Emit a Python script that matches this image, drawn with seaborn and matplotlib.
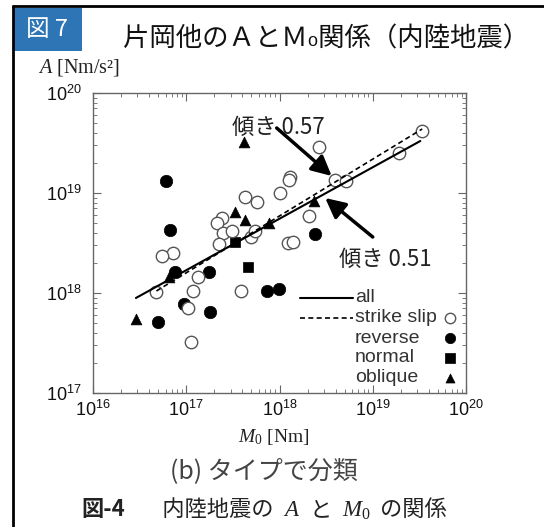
import numpy as np
import pandas as pd
import matplotlib
matplotlib.use("Agg")
import matplotlib.pyplot as plt
import seaborn as sns
from matplotlib.lines import Line2D
from matplotlib.patches import Rectangle
from matplotlib.ticker import LogLocator, FuncFormatter, NullFormatter
from matplotlib.offsetbox import TextArea, HPacker, AnchoredOffsetbox

# values, as exponents: log10(M0 [Nm]) and log10(A [Nm/s^2])
ss_m0 = [19.53, 18.42, 19.28, 18.11, 18.10, 18.60, 18.71, 18.00, 17.63, 17.76,
         18.32, 17.38, 17.33, 17.39, 17.49, 17.69, 17.74, 17.35, 18.09, 18.15,
         16.86, 16.74, 17.13, 17.07, 16.68, 17.59, 17.02, 17.05]
ss_a = [19.62, 19.46, 19.40, 19.16, 19.13, 19.13, 19.12, 19.00, 18.96, 18.91,
        18.77, 18.75, 18.70, 18.60, 18.62, 18.56, 18.62, 18.49, 18.50, 18.51,
        18.40, 18.37, 18.16, 18.02, 18.01, 18.02, 17.85, 17.51]
rev_m0 = [16.78, 16.83, 16.88, 17.24, 16.98, 17.26, 16.70, 17.87, 17.99, 18.38]
rev_a = [19.12, 18.63, 18.21, 18.21, 17.89, 17.81, 17.71, 18.02, 18.04, 18.59]
nor_m0 = [17.52, 17.66]
nor_a = [18.51, 18.26]
obl_m0 = [17.62, 17.52, 17.63, 17.89, 18.37, 16.46, 16.82]
obl_a = [19.51, 18.81, 18.73, 18.70, 18.92, 17.74, 18.16]

# fitted lines (end points)
all_m0 = [16.46, 19.51]
all_a = [17.95, 19.52]
ssfit_m0 = [16.68, 19.53]
ssfit_a = [18.02, 19.64]

legend_rows = ["all", "strike slip", "reverse", "normal", "oblique"]

sns.set_theme(style="ticks")
plt.rcParams['font.family'] = ['Noto Sans CJK JP', 'DejaVu Sans']
plt.rcParams['mathtext.fontset'] = 'custom'
plt.rcParams['mathtext.rm'] = 'Liberation Sans'
plt.rcParams['mathtext.it'] = 'Liberation Serif:italic'

W, H = 544, 527
fig = plt.figure(figsize=(W / 100, H / 100), dpi=100)
ax = fig.add_axes([93 / W, 1 - 393 / H, 373 / W, 300 / H])

df = pd.concat([
    pd.DataFrame({"M0": 10 ** np.array(rev_m0), "A": 10 ** np.array(rev_a), "type": "reverse"}),
    pd.DataFrame({"M0": 10 ** np.array(nor_m0), "A": 10 ** np.array(nor_a), "type": "normal"}),
    pd.DataFrame({"M0": 10 ** np.array(obl_m0), "A": 10 ** np.array(obl_a), "type": "oblique"}),
    pd.DataFrame({"M0": 10 ** np.array(ss_m0), "A": 10 ** np.array(ss_a), "type": "strike slip"}),
])

styles = {
    "reverse": dict(marker="o", s=80, color="black", edgecolor="black", linewidth=0.5),
    "normal": dict(marker="s", s=60, color="black", edgecolor="black", linewidth=0.5),
    "oblique": dict(marker="^", s=60, color="black", edgecolor="black", linewidth=0.5),
    "strike slip": dict(marker="o", s=80, color="white", edgecolor="#555555", linewidth=1.0),
}
for t, st in styles.items():
    sns.scatterplot(data=df[df["type"] == t], x="M0", y="A", ax=ax, legend=False, zorder=3, **st)

lines = pd.DataFrame({"M0": 10 ** np.array(all_m0 + ssfit_m0),
                      "A": 10 ** np.array(all_a + ssfit_a),
                      "fit": ["all"] * 2 + ["strike slip"] * 2})
sns.lineplot(data=lines[lines.fit == "all"], x="M0", y="A", ax=ax, color="black", lw=1.5, zorder=4)
sns.lineplot(data=lines[lines.fit == "strike slip"], x="M0", y="A", ax=ax, color="black",
             lw=1.2, linestyle=(0, (3, 2)), zorder=4)

ax.set_xscale("log")
ax.set_yscale("log")
ax.set_xlim(1e16, 1e20)
ax.set_ylim(1e17, 1e20)
for axis in (ax.xaxis, ax.yaxis):
    axis.set_major_locator(LogLocator(base=10, numticks=10))
    axis.set_minor_locator(LogLocator(base=10, subs=np.arange(2, 10), numticks=10))
    axis.set_major_formatter(FuncFormatter(lambda v, p: r"$\mathrm{10^{%d}}$" % round(np.log10(v))))
    axis.set_minor_formatter(NullFormatter())
ax.tick_params(which="both", direction="in", top=True, right=True, color="#666666",
               labelsize=13, labelcolor="#111111")
ax.tick_params(which="major", length=6, width=0.8)
ax.tick_params(which="minor", length=3, width=0.6)
ax.tick_params(axis="x", pad=5)
ax.tick_params(axis="y", pad=8)
for sp in ax.spines.values():
    sp.set_color("#666666")
    sp.set_linewidth(1.0)
ax.set_xlabel("")
ax.set_ylabel("")

# slope annotations
arrow_kw = dict(arrowstyle="-|>,head_length=0.6,head_width=0.3", color="black", lw=2.5,
                mutation_scale=20, shrinkA=0, shrinkB=0)
ax.annotate("", xy=(10 ** 18.56, 10 ** 19.17), xytext=(10 ** 17.97, 10 ** 19.65), arrowprops=arrow_kw, zorder=5)
ax.annotate("", xy=(10 ** 18.49, 10 ** 18.95), xytext=(10 ** 19.00, 10 ** 18.56), arrowprops=arrow_kw, zorder=5)
ax.text(10 ** 17.49, 10 ** 19.66, "傾き 0.57", fontsize=16, color="#222222", va="center", ha="left", zorder=4)
ax.text(10 ** 18.64, 10 ** 18.34, "傾き 0.51", fontsize=16, color="#222222", va="center", ha="left", zorder=4)

# legend drawn by hand: line keys before the text, marker keys after it
row_y = [0.317, 0.25, 0.183, 0.117, 0.05]
ax.plot([0.555, 0.697], [row_y[0]] * 2, transform=ax.transAxes, color="black", lw=1.5)
ax.plot([0.555, 0.697], [row_y[1]] * 2, transform=ax.transAxes, color="black", lw=1.2, linestyle=(0, (3, 2)))
for name, y in zip(legend_rows, row_y):
    ax.text(0.702, y, name, transform=ax.transAxes, family="Liberation Sans", fontsize=14,
            color="#333333", va="center", ha="left")
    if name in styles:
        st = dict(styles[name])
        st["s"] = st["s"] * 0.7
        c = st.pop("color")
        ax.scatter([0.957], [y], transform=ax.transAxes, c=c, zorder=5, **st)

# axis titles
fig.text(38 / W, 1 - 68 / H, "$A$ [Nm/s²]", family="Liberation Serif", fontsize=14.5,
         color="#222222", va="center", ha="left")
fig.text(274 / W, 1 - 437 / H, r"$M_\mathdefault{0}$ [Nm]", family="Liberation Serif", fontsize=14,
         color="#222222", va="center", ha="center")

# page frame, badge and title
fig.add_artist(Line2D([13 / W, 1], [1 - 6 / H] * 2, color="black", lw=2, transform=fig.transFigure))
fig.add_artist(Line2D([13 / W] * 2, [0, 1 - 6 / H], color="black", lw=2, transform=fig.transFigure))
fig.add_artist(Rectangle((13 / W, 1 - 51 / H), 69 / W, 43 / H, transform=fig.transFigure,
                         facecolor="#2E75B6", edgecolor="none"))
fig.text(47 / W, 1 - 30 / H, "図 7", color="white", fontsize=17, va="center", ha="center")
fig.text(123 / W, 1 - 39 / H, "片岡他のＡとＭ₀関係（内陸地震）", fontsize=19, color="#111111",
         va="center", ha="left")

# captions
fig.text(264 / W, 1 - 471 / H, "(b) タイプで分類", fontsize=18, color="#444444", va="center", ha="center")
cap = dict(fontsize=16, color="#222222")
serif = dict(family="Liberation Serif", fontsize=16.5, color="#222222")
parts = [TextArea("図-4", textprops=dict(cap, weight="bold")),
         TextArea("　 内陸地震の", textprops=cap),
         TextArea("$A$", textprops=serif),
         TextArea("と", textprops=cap),
         TextArea(r"$M_\mathdefault{0}$", textprops=serif),
         TextArea("の関係", textprops=cap)]
box = HPacker(children=parts, align="baseline", pad=0, sep=7)
anch = AnchoredOffsetbox(loc="center", child=box, frameon=False, pad=0, borderpad=0,
                         bbox_to_anchor=(264 / W, 1 - 510 / H), bbox_transform=fig.transFigure)
fig.add_artist(anch)

fig.savefig("out.png", dpi=100, facecolor="white")
